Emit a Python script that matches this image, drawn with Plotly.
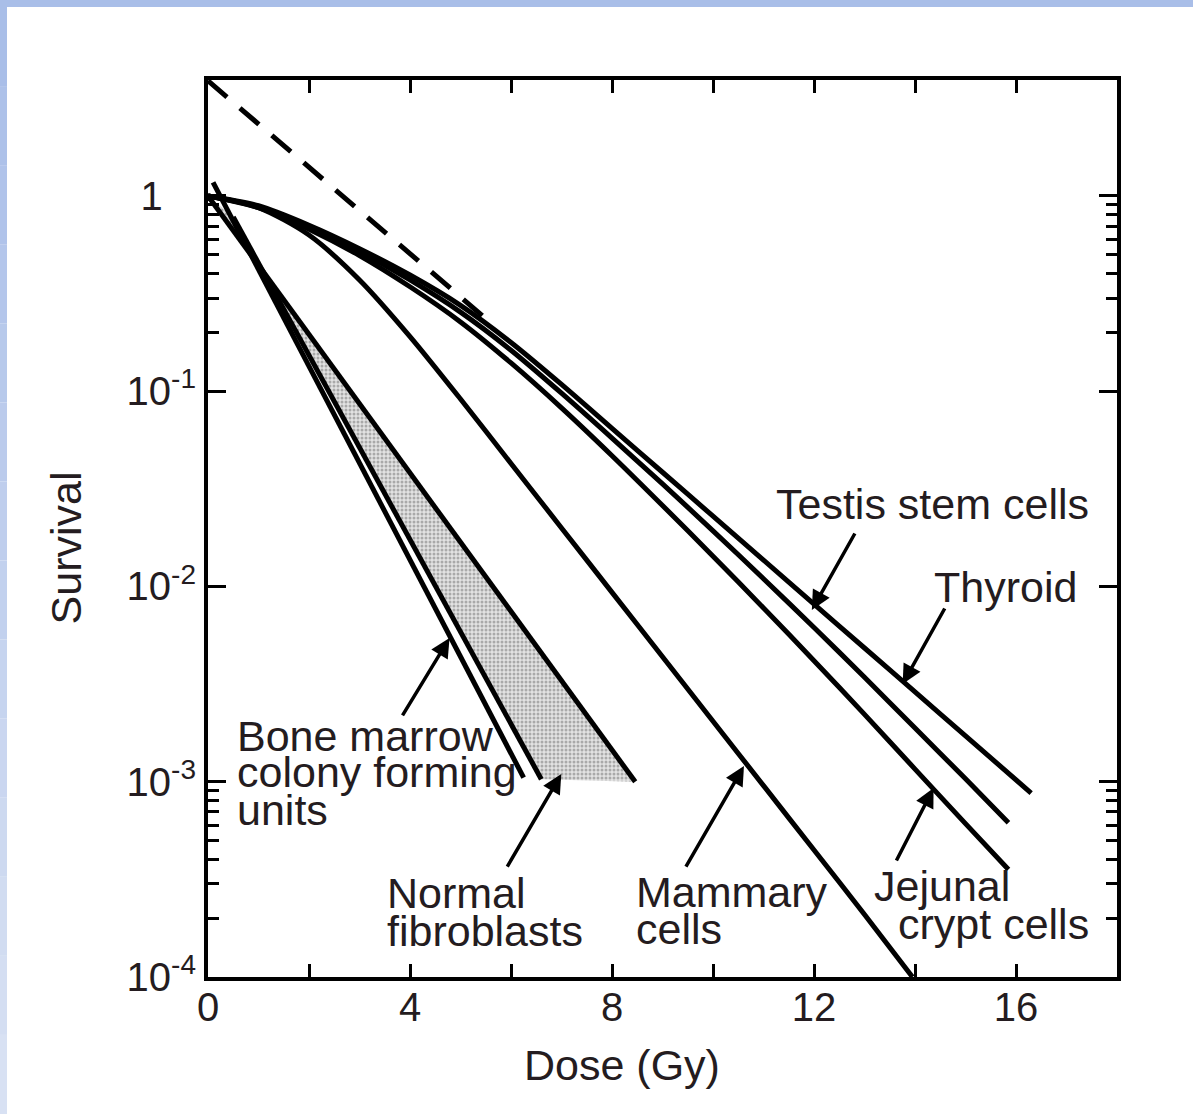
import plotly.graph_objects as go

# ---- survival curves (dose in Gy, surviving fraction) ----
dose_thyroid = [0, 1, 2, 3, 4, 5, 6, 7, 8, 9, 10, 11, 12, 13, 14, 15, 16.3]
surv_thyroid = [1.0, 0.8913, 0.7079, 0.5370, 0.3936, 0.2754, 0.1778, 0.1084,
                0.06457, 0.03846, 0.02291, 0.01365, 0.008128, 0.004842,
                0.002884, 0.001718, 0.000875]

dose_testis = [0, 1, 2, 3, 4, 5, 6, 7, 8, 9, 10, 11, 12, 13, 14, 15, 15.85]
surv_testis = [1.0, 0.8810, 0.6918, 0.5188, 0.3715, 0.2541, 0.1622, 0.09772,
               0.05754, 0.03350, 0.01928, 0.01096, 0.006166, 0.003428,
               0.001884, 0.001035, 0.000617]

dose_jejunal = [0, 1, 2, 3, 4, 5, 6, 7, 8, 9, 10, 11, 12, 13, 14, 15, 15.85]
surv_jejunal = [1.0, 0.8710, 0.6761, 0.4955, 0.3428, 0.2265, 0.1396, 0.08222,
                0.04677, 0.02600, 0.01429, 0.007762, 0.004169, 0.002213,
                0.001161, 0.000610, 0.000355]

dose_mammary = [0, 1, 2, 3, 4, 5, 6, 7, 8, 9, 10, 11, 12, 13, 13.95]
surv_mammary = [1.0, 0.8710, 0.6310, 0.3715, 0.1905, 0.09120, 0.04266,
                0.01995, 0.009333, 0.004365, 0.002042, 0.000955, 0.000447,
                0.000209, 0.0001]

dose_marrow = [0.1, 6.25]
surv_marrow = [1.175, 0.00105]

dose_fibro_low = [0.5, 6.6]
surv_fibro_low = [0.78, 0.00103]
dose_fibro_high = [0, 8.46]
surv_fibro_high = [1.0, 0.001]

# extrapolated asymptote of the shouldered curves
dose_extrap = [0, 5.6]
surv_extrap = [3.89, 0.224]

# ---- axis ticks ----
x_tickvals = [0, 4, 8, 12, 16]
x_ticktext = ["0", "4", "8", "12", "16"]
x_minor_vals = [2, 6, 10, 14]
y_tickvals = [1, 0.1, 0.01, 0.001, 0.0001]
y_ticktext = ["1\u00a0\u00a0\u00a0", "10<sup>-1</sup>", "10<sup>-2</sup>",
              "10<sup>-3</sup>", "10<sup>-4</sup>"]
y_minor_vals = [0.2, 0.3, 0.4, 0.5, 0.6, 0.7, 0.8, 0.9,
                0.0002, 0.0003, 0.0004, 0.0005, 0.0006, 0.0007, 0.0008, 0.0009]

FONT = "Liberation Sans, Arial, Helvetica, sans-serif"
TXT = "#241c20"
LW = 5

fig = go.Figure()

# shaded band for normal fibroblasts (closed polygon between its two edges)
fig.add_trace(go.Scatter(
    x=dose_fibro_low + dose_fibro_high[::-1],
    y=surv_fibro_low + surv_fibro_high[::-1],
    mode="lines", fill="toself", line=dict(width=0),
    fillcolor="#d0d0d0",
    fillpattern=dict(shape=".", fgcolor="#6f6f6f", bgcolor="#e2e2e2",
                     size=4, solidity=0.45),
    hoverinfo="skip", showlegend=False))


def curve(xs, ys, name, dash=None, spline=True):
    fig.add_trace(go.Scatter(
        x=xs, y=ys, mode="lines", name=name, showlegend=False,
        line=dict(color="black", width=LW, dash=dash,
                  shape="spline" if spline else "linear", smoothing=0.8)))


curve(dose_extrap, surv_extrap, "extrapolation", dash="25px,17px", spline=False)
curve(dose_thyroid, surv_thyroid, "Thyroid")
curve(dose_testis, surv_testis, "Testis stem cells")
curve(dose_jejunal, surv_jejunal, "Jejunal crypt cells")
curve(dose_mammary, surv_mammary, "Mammary cells")
curve(dose_marrow, surv_marrow, "Bone marrow", spline=False)
curve(dose_fibro_low, surv_fibro_low, "Fibroblasts (low)", spline=False)
curve(dose_fibro_high, surv_fibro_high, "Fibroblasts (high)", spline=False)

# ---- labels (left aligned text) ----
labels = [
    ("Testis stem cells", 11.21, -1.58),
    ("Thyroid", 14.33, -2.005),
    ("Bone marrow", 0.53, -2.765),
    ("colony forming", 0.53, -2.95),
    ("units", 0.53, -3.145),
    ("Normal", 3.50, -3.57),
    ("fibroblasts", 3.50, -3.765),
    ("Mammary", 8.44, -3.565),
    ("cells", 8.44, -3.755),
    ("Jejunal", 13.14, -3.535),
    ("crypt cells", 13.62, -3.73),
]
for text, xd, ylog in labels:
    fig.add_annotation(x=xd, y=ylog, xref="x", yref="y", text=text,
                       showarrow=False, xanchor="left", yanchor="middle",
                       font=dict(family=FONT, size=43, color=TXT))

# ---- pointer arrows (tail -> head) ----
arrows = [
    (3.834, -2.668, 4.783, -2.264),
    (5.909, -3.442, 6.996, -2.960),
    (9.447, -3.442, 10.613, -2.919),
    (13.617, -3.411, 14.368, -3.032),
    (12.826, -1.721, 11.957, -2.120),
    (14.605, -2.105, 13.755, -2.499),
]
for x0, y0, x1, y1 in arrows:
    fig.add_annotation(x=x1, y=y1, ax=x0, ay=y0, xref="x", yref="y",
                       axref="x", ayref="y", text="", showarrow=True,
                       arrowhead=2, arrowsize=1.1, arrowwidth=3.5,
                       arrowcolor="black")

# ---- axis titles ----
fig.add_annotation(x=-0.156, y=0.478, xref="paper", yref="paper",
                   text="Survival", textangle=-90, showarrow=False,
                   xanchor="center", yanchor="middle",
                   font=dict(family=FONT, size=43, color=TXT))
fig.add_annotation(x=0.455, y=-0.098, xref="paper", yref="paper",
                   text="Dose (Gy)", showarrow=False,
                   xanchor="center", yanchor="middle",
                   font=dict(family=FONT, size=43, color=TXT))

# ---- light blue frame along the top and left edges ----
W, H = 1193, 1114
L_M, R_M, T_M, B_M = 208, 76, 80, 137
pw, ph = W - L_M - R_M, H - T_M - B_M


def px_to_paper(px, py):
    return (px - L_M) / pw, (H - B_M - py) / ph


bx0, by0 = px_to_paper(0, 0)
bx1, by1 = px_to_paper(W, 7)
fig.add_shape(type="rect", xref="paper", yref="paper", x0=bx0, x1=bx1,
              y0=by1, y1=by0, line=dict(width=0), fillcolor="#a9bee8")
top_rgb = (169, 190, 232)
bot_rgb = (216, 225, 243)
nseg = 14
for i in range(nseg):
    t = i / (nseg - 1)
    c = tuple(round(top_rgb[k] + (bot_rgb[k] - top_rgb[k]) * t) for k in range(3))
    lx0, ly0 = px_to_paper(0, 7 + (H - 7) * i / nseg)
    lx1, ly1 = px_to_paper(7, 7 + (H - 7) * (i + 1) / nseg)
    fig.add_shape(type="rect", xref="paper", yref="paper", x0=lx0, x1=lx1,
                  y0=ly1, y1=ly0, line=dict(width=0),
                  fillcolor="rgb(%d,%d,%d)" % c)

fig.update_layout(
    width=W, height=H,
    margin=dict(l=L_M, r=R_M, t=T_M, b=B_M),
    paper_bgcolor="white", plot_bgcolor="white",
    showlegend=False,
    xaxis=dict(range=[0, 18], tickmode="array", tickvals=x_tickvals,
               ticktext=x_ticktext, ticks="inside", ticklen=13, tickwidth=3,
               tickcolor="black", showline=True, linecolor="black",
               linewidth=4, mirror="ticks", showgrid=False, zeroline=False,
               ticklabelstandoff=-8,
               minor=dict(tickmode="array", tickvals=x_minor_vals,
                          ticks="inside", ticklen=13, tickwidth=3,
                          tickcolor="black", showgrid=False),
               tickfont=dict(family=FONT, size=40, color=TXT)),
    yaxis=dict(type="log", range=[-4, 0.594], tickmode="array",
               tickvals=y_tickvals, ticktext=y_ticktext, ticks="inside",
               ticklen=18, tickwidth=3, tickcolor="black", showline=True,
               linecolor="black", linewidth=4, mirror="ticks",
               showgrid=False, zeroline=False,
               minor=dict(tickmode="array", tickvals=y_minor_vals,
                          ticks="inside", ticklen=11, tickwidth=2.5,
                          tickcolor="black", showgrid=False),
               tickfont=dict(family=FONT, size=40, color=TXT)),
)

fig.write_html("out.html")
